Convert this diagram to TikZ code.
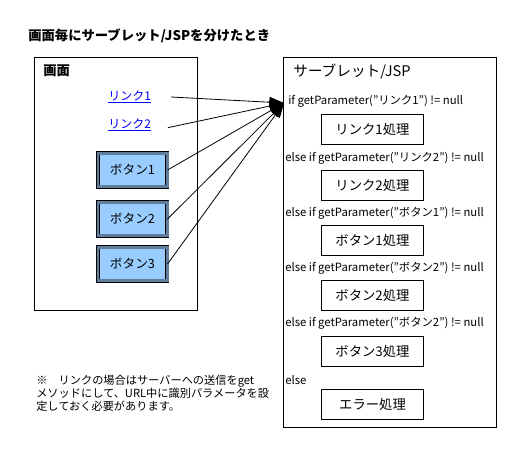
\documentclass[tikz,border=0pt]{standalone}
\usepackage{fontspec}
\setmainfont{Noto Sans CJK JP}
\usetikzlibrary{arrows.meta,positioning}
\definecolor{linkblue}{RGB}{0,0,255}
\definecolor{btnfill}{RGB}{153,204,255}
\definecolor{btnedge}{RGB}{96,126,156}
\tikzset{
    frame/.style={draw, line width=0.75pt},
    heading/.style={anchor=west, inner sep=0pt, font=\fontsize{10}{12}\bfseries\selectfont},
    linktext/.style={anchor=west, inner sep=0pt, text=linkblue, font=\fontsize{9}{11}\selectfont},
    button/.style={draw=black, line width=0.5pt, double=btnedge, double distance=2pt, fill=btnfill,
        minimum width=52pt, minimum height=25pt, inner sep=0pt, font=\fontsize{9.5}{11}\selectfont},
    cond/.style={anchor=west, inner sep=0pt, font=\fontsize{8.5}{10}\selectfont},
    procbox/.style={draw, line width=0.75pt, minimum width=77pt, minimum height=22.5pt, inner sep=0pt,
        font=\fontsize{10}{12}\selectfont},
    request/.style={line width=0.6pt, -{Triangle[length=11pt,width=8pt]}}
}
\begin{document}
\begin{tikzpicture}[x=0.75pt, y=-0.75pt]
    \useasboundingbox (0,0) rectangle (529,454);
    \node[heading] (title) at (28,36) {画面毎にサーブレット/JSPを分けたとき};
    % screen side
    \draw[frame] (34,57) rectangle (197,310);
    \node[heading] (screen) at (43,71) {画面};
    \node[linktext] (link1) at (108,97) {\underline{リンク1}};
    \node[linktext] (link2) at (108,125) {\underline{リンク2}};
    \foreach \n/\y in {1/170, 2/219, 3/264}
        \node[button] (btn\n) at (132.5,\y) {ボタン\n};
    % servlet side
    \draw[frame] (283,57) rectangle (496,427);
    \node[anchor=west, inner sep=0pt, font=\fontsize{11}{13}\selectfont] (servlet) at (293,72) {サーブレット/JSP};
    \coordinate (tip) at (284,103);
    \node[cond] (c1) at (288,101) {if getParameter("リンク1") != null};
    \node[cond] (c2) at (285,158) {else if getParameter("リンク2") != null};
    \node[cond] (c3) at (285,213) {else if getParameter("ボタン1") != null};
    \node[cond] (c4) at (285,268) {else if getParameter("ボタン2") != null};
    \node[cond] (c5) at (285,323) {else if getParameter("ボタン2") != null};
    \node[cond] (c6) at (285,380) {else};
    \node[procbox] (p1) at (372.5,129) {リンク1処理};
    \node[procbox] (p2) at (372.5,185.5) {リンク2処理};
    \node[procbox] (p3) at (372.5,240) {ボタン1処理};
    \node[procbox] (p4) at (372.5,295.5) {ボタン2処理};
    \node[procbox] (p5) at (372.5,351.5) {ボタン3処理};
    \node[procbox] (p6) at (372.5,404) {エラー処理};
    % requests
    \draw[request] ([xshift=15pt]link1.east) -- (tip);
    \draw[request] ([xshift=12.5pt,yshift=-2pt]link2.east) -- (tip);
    \foreach \n in {1,2,3}
        \draw[request] (btn\n.east) -- (tip);
    % note
    \node[anchor=north west, inner sep=0pt, align=left, font=\fontsize{8.4}{9.75}\selectfont] (note) at (36,375)
        {※　リンクの場合はサーバーへの送信をget\\メソッドにして、URL中に識別パラメータを設\\定しておく必要があります。};
\end{tikzpicture}
\end{document}
